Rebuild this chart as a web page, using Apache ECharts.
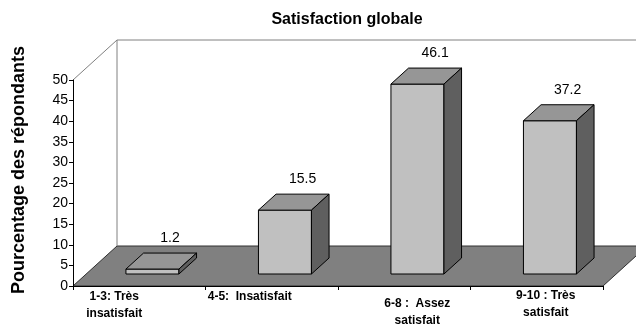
<!DOCTYPE html>
<html>
<head>
<meta charset="utf-8">
<script src="https://cdn.jsdelivr.net/npm/echarts@6/dist/echarts.min.js"></script>
<style>
  html, body { margin: 0; padding: 0; background: #fff; }
  #chart { width: 636px; height: 324px; }
</style>
</head>
<body>
<div id="chart"></div>
<script>
// Satisfaction scores grouped in four bands
const categories = ['1-3: Très\ninsatisfait', '4-5:  Insatisfait', '6-8 :  Assez\nsatisfait', '9-10 : Très\nsatisfait'];
const percentages = [1.2, 15.5, 46.1, 37.2];
const yTicks = [0, 5, 10, 15, 20, 25, 30, 35, 40, 45, 50];

const titleText = 'Satisfaction globale';
const yAxisTitle = 'Pourcentage des répondants';

// Oblique projection of the depth axis (pixels from front plane to back wall)
const DEPTH_X = 44;
const DEPTH_Y = -40;
// Bars sit in the middle of the depth: front face at 30 %, back face at 70 %
const BAR_FRONT = 0.3;
const BAR_DEPTH = 0.4;
const BAR_WIDTH = 0.4;
// Hand placement of the wrapped category captions: [dx from band centre, top y]
const CAPTION_PLACE = [[-25, 288], [-22, 288], [13, 295], [9, 287]];

const FONT = '"Liberation Sans", Arial, Helvetica, sans-serif';

const chart = echarts.init(document.getElementById('chart'), null, { renderer: 'canvas' });

function renderRoom(params, api) {
  const cs = params.coordSys;
  const x0 = cs.x, x1 = cs.x + cs.width;
  const yTop = cs.y, yBot = cs.y + cs.height;
  const wall = { stroke: '#808080', lineWidth: 1, fill: null };
  return {
    type: 'group',
    children: [
      // floor
      { type: 'polygon', shape: { points: [[x0, yBot], [x1, yBot], [x1 + DEPTH_X, yBot + DEPTH_Y], [x0 + DEPTH_X, yBot + DEPTH_Y]] },
        style: { fill: '#808080', stroke: '#303030', lineWidth: 1 } },
      // side wall edge and back wall outline
      { type: 'polyline', shape: { points: [[x0, yTop], [x0 + DEPTH_X, yTop + DEPTH_Y], [x1 + DEPTH_X + 20, yTop + DEPTH_Y]] }, style: wall },
      { type: 'line', shape: { x1: x0 + DEPTH_X, y1: yTop + DEPTH_Y, x2: x0 + DEPTH_X, y2: yBot + DEPTH_Y }, style: wall }
    ]
  };
}

function renderBar(params, api) {
  const i = api.value(0);
  const v = api.value(1);
  const base = api.coord([i, 0]);
  const top = api.coord([i, v]);
  const band = api.size([1, 0])[0];
  const w = band * BAR_WIDTH;
  const cx = base[0] + DEPTH_X * BAR_FRONT;
  const xl = cx - w / 2, xr = cx + w / 2;
  const yb = base[1] + DEPTH_Y * BAR_FRONT;
  const yt = top[1] + DEPTH_Y * BAR_FRONT;
  const dx = DEPTH_X * BAR_DEPTH, dy = DEPTH_Y * BAR_DEPTH;
  const edge = { stroke: '#000', lineWidth: 1, lineJoin: 'miter' };
  return {
    type: 'group',
    children: [
      { type: 'polygon', shape: { points: [[xl, yt], [xr, yt], [xr, yb], [xl, yb]] },
        style: Object.assign({ fill: '#c0c0c0' }, edge) },
      { type: 'polygon', shape: { points: [[xl, yt], [xr, yt], [xr + dx, yt + dy], [xl + dx, yt + dy]] },
        style: Object.assign({ fill: '#969696' }, edge) },
      { type: 'polygon', shape: { points: [[xr, yt], [xr + dx, yt + dy], [xr + dx, yb + dy], [xr, yb]] },
        style: Object.assign({ fill: '#5f5f5f' }, edge) },
      { type: 'text', x: cx + dx, y: yt + dy - 15,
        style: { text: String(v), textAlign: 'center', textVerticalAlign: 'middle',
                 font: '14px ' + FONT, fill: '#000' } }
    ]
  };
}

function renderCaption(params, api) {
  const i = api.value(0);
  const p = api.coord([i, 0]);
  const place = CAPTION_PLACE[i];
  return {
    type: 'text', x: p[0] + place[0], y: place[1],
    style: { text: categories[i], textAlign: 'center', textVerticalAlign: 'top',
             font: 'bold 12px ' + FONT, lineHeight: 17, fill: '#000' }
  };
}

const option = {
  animation: false,
  backgroundColor: '#fff',
  grid: { left: 73, right: 33, top: 80, bottom: 38, containLabel: false },
  xAxis: {
    type: 'category',
    data: categories,
    boundaryGap: true,
    z: 5,
    axisLine: { lineStyle: { color: '#000', width: 1 } },
    axisTick: { show: true, alignWithLabel: false, length: 4, lineStyle: { color: '#000' } },
    axisLabel: { show: false },
    splitLine: { show: false }
  },
  yAxis: {
    type: 'value',
    min: yTicks[0],
    max: yTicks[yTicks.length - 1],
    interval: yTicks[1] - yTicks[0],
    z: 5,
    axisLine: { show: true, lineStyle: { color: '#000', width: 1 } },
    axisTick: { show: true, length: 4, lineStyle: { color: '#000' } },
    axisLabel: { color: '#000', fontSize: 14, fontFamily: FONT, margin: 5 },
    splitLine: { show: false }
  },
  graphic: [
    { type: 'text', x: 347, y: 20,
      style: { text: titleText, textAlign: 'center', textVerticalAlign: 'middle',
               font: 'bold 16px ' + FONT, fill: '#000' } },
    { type: 'text', x: 19, y: 170, rotation: Math.PI / 2,
      style: { text: yAxisTitle, textAlign: 'center', textVerticalAlign: 'middle',
               font: 'bold 18px ' + FONT, fill: '#000' } }
  ],
  series: [
    { type: 'custom', z: 1, renderItem: renderRoom, data: [[0, 0]], silent: true, clip: false },
    { type: 'custom', z: 3, renderItem: renderBar, clip: false,
      data: percentages.map((v, i) => [i, v]) },
    { type: 'custom', z: 3, renderItem: renderCaption, clip: false,
      data: categories.map((c, i) => [i, 0]) }
  ]
};

chart.setOption(option);
</script>
</body>
</html>
